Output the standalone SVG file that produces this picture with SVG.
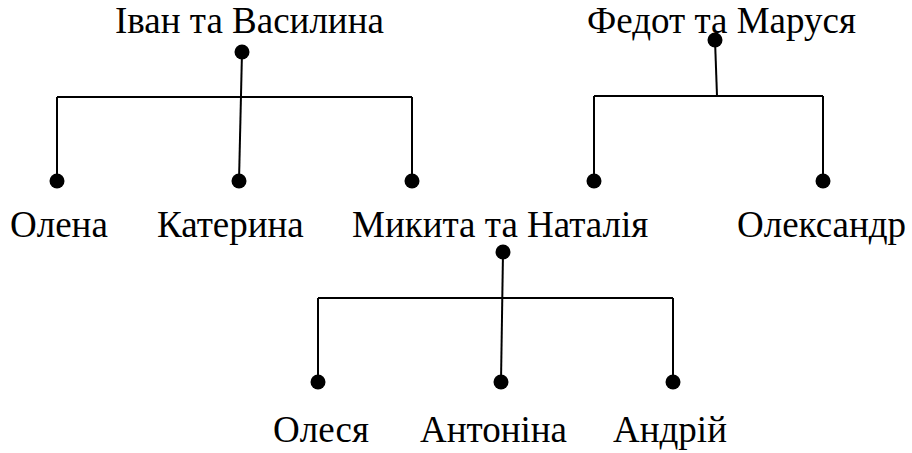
<svg xmlns="http://www.w3.org/2000/svg" width="912" height="453" viewBox="0 0 912 453">
<style>
text{font-family:"Liberation Serif","Times New Roman",serif;font-size:37px;fill:#000}
.c line{stroke:#000;stroke-width:2;fill:none}
.d{fill:#000}
</style>
<rect width="912" height="453" fill="#fff"/>
<g class="c" id="connectors">
<line x1="57" y1="97" x2="412" y2="97"/>
<line x1="57" y1="97" x2="57" y2="181"/>
<line x1="412" y1="97" x2="412" y2="181"/>
<line x1="242" y1="52" x2="239" y2="181"/>
<line x1="594" y1="96" x2="823" y2="96"/>
<line x1="594" y1="96" x2="594" y2="181"/>
<line x1="823" y1="96" x2="823" y2="181"/>
<line x1="715" y1="40" x2="717" y2="96"/>
<line x1="318" y1="298" x2="673" y2="298"/>
<line x1="318" y1="298" x2="318" y2="382"/>
<line x1="673" y1="298" x2="673" y2="382"/>
<line x1="503" y1="252" x2="501" y2="382"/>
</g>
<g id="ivan-vasylyna"><text x="115" y="33">Іван та Василина</text><circle class="d" cx="242" cy="52" r="7.5"/></g>
<g id="fedot-marusia"><text x="587" y="33">Федот та Маруся</text><circle class="d" cx="715" cy="40" r="7.5"/></g>
<g id="olena"><circle class="d" cx="57" cy="181" r="7.5"/><text x="10" y="237">Олена</text></g>
<g id="kateryna"><circle class="d" cx="239" cy="181" r="7.5"/><text x="157" y="237">Катерина</text></g>
<g id="mykyta-natalia"><circle class="d" cx="412" cy="181" r="7.5"/><text x="352" y="237">Микита та Наталія</text><circle class="d" cx="503" cy="252" r="7.5"/></g>
<g id="node-594"><circle class="d" cx="594" cy="181" r="7.5"/></g>
<g id="oleksandr"><circle class="d" cx="823" cy="181" r="7.5"/><text x="737" y="237">Олександр</text></g>
<g id="olesia"><circle class="d" cx="318" cy="382" r="7.5"/><text x="273" y="442">Олеся</text></g>
<g id="antonina"><circle class="d" cx="501" cy="382" r="7.5"/><text x="420" y="442">Антоніна</text></g>
<g id="andrii"><circle class="d" cx="673" cy="382" r="7.5"/><text x="613" y="442">Андрій</text></g>
</svg>
